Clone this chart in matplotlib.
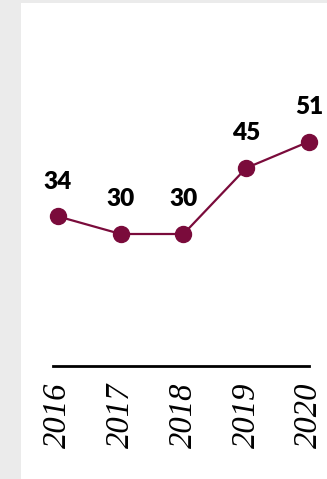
import matplotlib
matplotlib.use("Agg")
import matplotlib.pyplot as plt
from matplotlib.patches import Rectangle

years = ["2016", "2017", "2018", "2019", "2020"]
values = [34, 30, 30, 45, 51]

W, H = 327, 479
fig = plt.figure(figsize=(W / 100, H / 100), dpi=100)
fig.patch.set_facecolor("#ebebeb")
fig.patches.append(Rectangle((21 / W, 0), 1 - 21 / W, 1 - 3 / H,
                             transform=fig.transFigure, facecolor="white",
                             edgecolor="none", zorder=-10))

left, right = 53 / W, 309 / W
bottom, top = 1 - 366 / H, 1 - 3 / H
ax = fig.add_axes([left, bottom, right - left, top - bottom])
ax.set_facecolor("none")

color = "#7a0b3b"
x = list(range(len(years)))
ax.plot(x, values, color=color, lw=1.6, marker="o", markersize=11.5,
        clip_on=False, zorder=3)
for xi, v in zip(x, values):
    ax.annotate(str(v), (xi, v), xytext=(0, 17), textcoords="offset points",
                ha="center", va="bottom", fontsize=17.5, fontweight="heavy",
                family="Lato", color="black")

ax.set_xlim(-5 / 63.25, 251 / 63.25)
ax.set_ylim(0, 363 / 4.4)
ax.set_xticks(x)
ax.set_xticklabels(years, rotation=90, family="Liberation Serif",
                   style="italic", fontsize=23.5)
ax.tick_params(axis="x", length=0, pad=12)
ax.set_yticks([])
for s in ["top", "left", "right"]:
    ax.spines[s].set_visible(False)
ax.spines["bottom"].set_linewidth(2)
ax.spines["bottom"].set_color("black")

fig.savefig("out.png", dpi=100, facecolor=fig.get_facecolor())
